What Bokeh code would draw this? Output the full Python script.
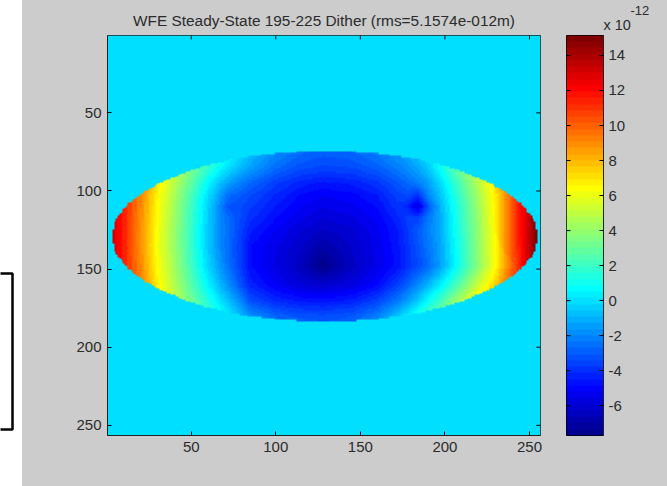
import numpy as np
from bokeh.embed import file_html
from bokeh.resources import INLINE
from bokeh.layouts import row
from bokeh.plotting import figure
from bokeh.models import LinearColorMapper, FixedTicker, Title, Range1d

TITLE = "WFE Steady-State 195-225 Dither (rms=5.1574e-012m)"
x_ticks = [50, 100, 150, 200, 250]
y_ticks = [50, 100, 150, 200, 250]
cb_ticks = [-6, -4, -2, 0, 2, 4, 6, 8, 10, 12, 14]
clim = (-7.7, 15.14)
outside_value = 0.0

# values (units of 1e-12) at these columns / rows
sample_x = [0, 10, 20, 30, 40, 50, 60, 67, 72, 78, 85, 100, 115, 128, 145, 160, 172, 178, 184, 190, 197, 208, 220, 230, 240, 250, 256]
sample_y = [75, 85, 95, 103, 110, 117, 125, 135, 148, 160, 170, 180, 186]
y075 = [14,11.8,9.8,7.4,5.6,4.0, 2.6,1.6,0.9,0.1,-0.7, -1.9,-2.6,-2.9,-2.7,-2.2, -1.5,-1.1,-0.6,0,0.8, 2.4,4.8,7,10.2,13,15.5]
y085 = [14,11.8,9.7,7.2,5.3,3.5, 1.8,0.7,0,-0.7,-1.4, -2.6,-3.3,-3.5,-3.4,-2.9, -2.2,-1.8,-1.2,-0.5,0.8, 3,5.6,7.6,10.4,13.3,15.5]
y095 = [14,11.6,9.5,6.9,4.8,2.8, 0.6,-0.7,-1.4,-2.1,-2.7, -3.7,-4.3,-4.6,-4.4,-3.9, -3.1,-2.7,-2.2,-1.5,-0.2, 2.2,4.8,7.1,10.4,13.4,15.5]
y103 = [14,11.5,9.2,6.6,4.5,2.3, 0,-1.5,-2.6,-3,-3.4, -4.2,-4.9,-5.2,-5,-4.5, -3.6,-3.4,-4.0,-2.1,-0.7, 1.8,4.4,6.9,10.4,13.5,15.5]
y110 = [14,11.5,9.1,6.5,4.3,2.1, -0.3,-2,-3.2,-3.3,-3.7, -4.5,-5.2,-5.5,-5.3,-4.8, -3.9,-4.3,-5.8,-3.2,-1.1, 1.5,4.2,6.8,10.4,13.5,15.5]
y117 = [14,11.5,9.0,6.4,4.2,2.0, -0.4,-1.9,-2.7,-3.3,-4, -4.8,-5.5,-5.9,-5.6,-5.1, -4.2,-3.6,-3.7,-2.4,-1.2, 1.4,4.1,6.7,10.4,13.5,15.5]
y125 = [14,11.5,8.9,6.3,4.1,1.9, -0.5,-1.9,-2.6,-3.4,-4.4, -5.2,-5.9,-6.3,-6,-5.3, -4.5,-3.8,-3,-2.2,-1.2, 1.3,4,6.6,10.4,13.5,15.5]
y135 = [14,11.5,8.9,6.2,4.1,1.9, -0.5,-1.9,-2.7,-3.6,-4.8, -5.5,-6.2,-6.9,-6.2,-5.4, -4.6,-3.9,-3.2,-2.4,-1.4, 1.1,3.9,6.5,10.3,13.5,15.5]
y148 = [14,11.5,9.1,6.4,4.3,2.1, -0.2,-1.6,-2.5,-3.5,-4.8, -5.6,-6.5,-7.6,-6.4,-5.5, -4.7,-4,-3.4,-2.7,-1.5, 1.0,3.8,6.4,10.1,13.3,15.5]
y160 = [14,11.6,9.4,6.7,4.7,2.6, 0.5,-0.9,-1.8,-3,-4.3, -5.2,-5.9,-6.1,-5.7,-4.9, -3.6,-2.9,-1.9,-1,0.3, 2.5,5.3,7.5,10.4,13.2,15.5]
y170 = [14,11.8,9.7,7,5.1,3.2, 1.4,0.1,-0.7,-1.8,-3.3, -4.2,-4.6,-4.7,-4.4,-3.6, -2.4,-1.5,-0.5,0.7,1.9, 4.3,6.8,8.5,10.9,13.5,15.5]
y180 = [14,11.8,9.8,7.2,5.3,3.6, 2,1,0.3,-0.7,-1.8, -2.8,-3.2,-3.3,-3.1,-2.2, -0.6,0.3,1.2,2.3,3.5, 5.5,7.5,9,11.4,13.5,15.5]
y186 = [14,11.8,9.8,7.4,5.6,4.0, 2.6,1.6,0.9,0.1,-0.7, -2.2,-2.7,-2.9,-2.7,-1.9, 0,0.8,1.8,2.9,4, 6,8,9.5,11.9,13.5,15.5]
table = [y075, y085, y095, y103, y110, y117, y125, y135, y148, y160, y170, y180, y186]

# aperture outline: row, left edge, right edge
edge_y = [75, 76, 78, 80, 84, 88, 92, 96, 100, 104, 108, 112, 116, 120, 125, 129, 133, 138, 142, 146, 150, 154, 158, 162, 166, 170, 174, 178, 180, 182, 183]
edge_l = [113, 100, 84, 73, 58, 47, 38, 30, 23, 18, 13, 10, 7, 5, 4, 3.5, 4, 5, 7, 10, 13, 18, 23, 30, 38, 47, 58, 73, 84, 100, 113]
edge_r = [147, 160, 174, 185, 200, 211, 220, 228, 235, 240, 245, 248, 251, 253, 254, 254.5, 254, 253, 251, 248, 245, 240, 235, 228, 220, 211, 200, 185, 174, 160, 147]


def jet(n):
    out = []
    for i in range(n):
        t = (i + 1) / n * 4
        r = min(t - 1.5, 4.5 - t)
        g = min(t - 0.5, 3.5 - t)
        b = min(t + 0.5, 2.5 - t)
        c = [int(round(255 * max(0.0, min(1.0, v)))) for v in (r, g, b)]
        out.append("#%02x%02x%02x" % tuple(c))
    return out


palette = jet(64)
mapper = LinearColorMapper(palette=palette, low=clim[0], high=clim[1])

# resample the read table onto the 256 x 256 picture cells
cols = np.arange(1, 257)
rows = np.arange(1, 257)
by_row = np.array([np.interp(cols, sample_x, r) for r in table])
field = np.array([np.interp(rows, sample_y, by_row[:, j]) for j in range(256)]).T
lefts = np.interp(rows, edge_y, edge_l)
rights = np.interp(rows, edge_y, edge_r)
inside = (rows[:, None] >= edge_y[0]) & (rows[:, None] <= edge_y[-1]) & (cols[None, :] >= lefts[:, None]) & (cols[None, :] <= rights[:, None])
field = np.where(inside, field, outside_value)

FONT = "Liberation Sans"
TXT = "#2b2b2b"
BG = "#cccccc"


def style(ax, size="15px"):
    ax.major_tick_in = 4
    ax.major_tick_out = 0
    ax.minor_tick_in = 0
    ax.minor_tick_out = 0
    ax.major_tick_line_color = "#000000"
    ax.axis_line_color = "#222222"
    ax.major_label_text_font = FONT
    ax.major_label_text_font_size = size
    ax.major_label_text_color = TXT


# white strip with the black box of the screenshot's left edge
strip = figure(width=22, height=486, output_backend="svg", toolbar_location=None,
               x_range=Range1d(0, 22), y_range=Range1d(435, 35),
               min_border=0, x_axis_location=None, y_axis_location=None,
               background_fill_alpha=0, border_fill_alpha=0, outline_line_color=None)
strip.styles = {"background-color": "white"}
strip.grid.visible = False
strip.line(x=[-3, 12, 12, -3], y=[273, 273, 429, 429], line_color="black", line_width=2.5)

p = figure(width=544, height=486, output_backend="svg", toolbar_location=None,
           x_range=Range1d(0.5, 256.5), y_range=Range1d(256.5, 0.5),
           min_border_left=85, min_border_right=26, min_border_top=35, min_border_bottom=51,
           title=TITLE, background_fill_color=BG, border_fill_color=BG, outline_line_color="#222222")
p.grid.visible = False
p.title.align = "center"
p.title.text_font = FONT
p.title.text_font_size = "15.4px"
p.title.text_font_style = "normal"
p.title.text_color = TXT
p.title.standoff = 13
p.image(image=[field], x=0.5, y=0.5, dw=256, dh=256, color_mapper=mapper)
p.xaxis.ticker = FixedTicker(ticks=x_ticks)
p.yaxis.ticker = FixedTicker(ticks=y_ticks)
style(p.xaxis[0]); style(p.yaxis[0])
p.xaxis.major_label_standoff = 6
p.yaxis.major_label_standoff = 6
# matching inner ticks on the top and right sides
p.segment(x0=x_ticks, x1=x_ticks, y0=[0.5] * 5, y1=[3] * 5, line_color="black")
p.segment(x0=[254] * 5, x1=[256.5] * 5, y0=y_ticks, y1=y_ticks, line_color="black")

cb = figure(width=101, height=486, output_backend="svg", toolbar_location=None,
            x_range=Range1d(0, 1), y_range=Range1d(*clim),
            min_border_left=0, min_border_right=64, min_border_top=35, min_border_bottom=51,
            background_fill_color=BG, border_fill_color=BG, outline_line_color="black",
            x_axis_location=None, y_axis_location="right")
cb.grid.visible = False
levels = np.linspace(clim[0], clim[1], 64).reshape(64, 1)
cb.image(image=[levels], x=0, y=clim[0], dw=1, dh=clim[1] - clim[0], color_mapper=mapper)
cb.yaxis.ticker = FixedTicker(ticks=cb_ticks)
cb.yaxis.major_label_overrides = {t: str(t) for t in cb_ticks}
style(cb.yaxis[0])
cb.yaxis.major_label_standoff = 5
cb.segment(x0=[0] * 11, x1=[0.11] * 11, y0=cb_ticks, y1=cb_ticks, line_color="black")
cb.add_layout(Title(text="x 10", align="left", offset=37, text_font=FONT, text_font_size="14.5px",
                    text_font_style="normal", text_color=TXT, standoff=5), "above")
cb.add_layout(Title(text="-12", align="left", offset=64, text_font=FONT, text_font_size="13px",
                    text_font_style="normal", text_color=TXT, standoff=-5), "above")

layout = row(strip, p, cb, spacing=0, margin=(0, 0, 0, 0))
layout.styles = {"background-color": BG}
open("out.html", "w").write(file_html(layout, INLINE))
